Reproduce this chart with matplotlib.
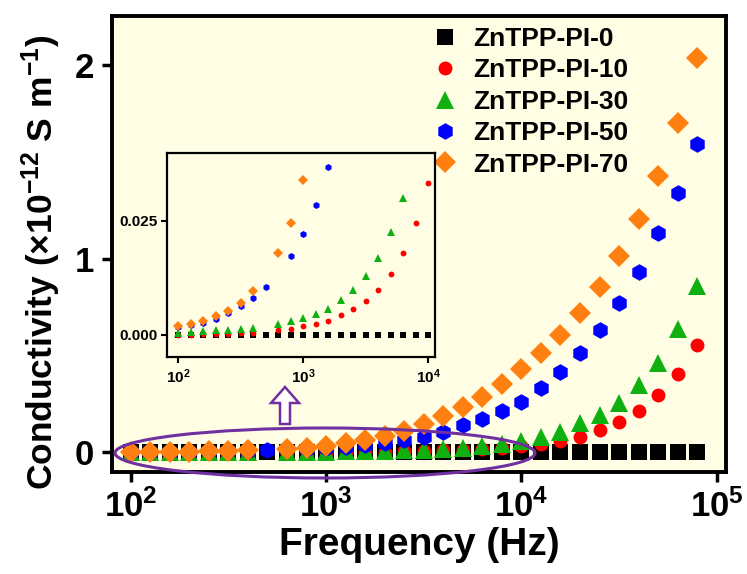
import numpy as np
import matplotlib
matplotlib.use("Agg")
import matplotlib.pyplot as plt
from matplotlib.patches import Ellipse, FancyArrow

plt.rcParams['font.family'] = ['Liberation Sans', 'DejaVu Sans']
plt.rcParams['font.weight'] = 'bold'
plt.rcParams['mathtext.fontset'] = 'custom'
plt.rcParams['mathtext.rm'] = 'Liberation Sans:bold'
plt.rcParams['mathtext.bf'] = 'Liberation Sans:bold'
plt.rcParams['mathtext.default'] = 'bf'

# frequency: 10 points per decade, 100 Hz .. 79 kHz
freq = 10 ** (2 + np.arange(30) / 10)

nan = np.nan
pi_0 = [0.0] * 30
pi_10 = [0.0000, 0.0000, 0.0001, 0.0001, 0.0002, 0.0003, 0.0004, nan, 0.0010, 0.0012,
         0.0018, 0.0023, 0.0030, 0.0042, 0.0056, 0.0073, 0.0098, 0.0133, 0.0180, 0.0246,
         0.0333, 0.042, 0.056, 0.081, 0.115, 0.158, 0.215, 0.296, 0.404, 0.554]
pi_30 = [0.0004, 0.0005, 0.0007, 0.0009, 0.0011, 0.0012, 0.0015, nan, 0.0023, 0.0029,
         0.0036, 0.0045, 0.0056, 0.0075, 0.0098, 0.0128, 0.0169, 0.0225, 0.0301, 0.042,
         0.058, 0.081, 0.104, 0.150, 0.193, 0.256, 0.347, 0.463, 0.635, 0.859]
pi_50 = [0.0016, 0.0020, 0.0025, 0.0034, 0.0047, 0.0063, 0.0080, 0.0104, nan, 0.0172,
         0.0221, 0.0285, 0.0368, 0.046, 0.063, 0.081, 0.106, 0.141, 0.170, 0.215,
         0.261, 0.334, 0.413, 0.511, 0.631, 0.769, 0.929, 1.131, 1.340, 1.592]
pi_70 = [0.0018, 0.0024, 0.0029, 0.0040, 0.0052, 0.0069, 0.0096, nan, 0.0179, 0.0246,
         0.0339, 0.046, 0.063, 0.086, 0.112, 0.146, 0.187, 0.232, 0.287, 0.353,
         0.428, 0.511, 0.606, 0.721, 0.855, 1.013, 1.203, 1.428, 1.702, 2.034]

labels = ['ZnTPP-PI-0', 'ZnTPP-PI-10', 'ZnTPP-PI-30', 'ZnTPP-PI-50', 'ZnTPP-PI-70']
series = [pi_0, pi_10, pi_30, pi_50, pi_70]
colors = ['black', '#FF0000', '#10B010', '#0000FF', '#FF8010']
markers = ['s', 'o', '^', 'h', 'D']
msize = [11.5, 10, 12.5, 12, 11]

bg = '#FFFEE4'
W, H = 747, 574

fig = plt.figure(figsize=(W / 100, H / 100), dpi=100)

# ---- main axes
ax = fig.add_axes([112 / W, 1 - 471.7 / H, (725.7 - 112) / W, (471.7 - 15.7) / H])
ax.set_facecolor(bg)
for y, lab, c, m, s in zip(series, labels, colors, markers, msize):
    ax.plot(freq, y, ls='none', marker=m, color=c, ms=s, mew=0, label=lab)
ax.set_xscale('log')
ax.set_xlim(10 ** 1.904, 10 ** 5.046)
ax.set_ylim(-0.10, 2.254)
ax.set_xticks([1e2, 1e3, 1e4, 1e5])
ax.set_xticklabels([r'$10^{2}$', r'$10^{3}$', r'$10^{4}$', r'$10^{5}$'])
ax.minorticks_off()
ax.set_yticks([0, 1, 2])
ax.set_yticklabels(['0', '1', '2'])
ax.tick_params(direction='out', length=7, width=2.5, labelsize=25, pad=6)
for sp in ax.spines.values():
    sp.set_linewidth(2.8)
ax.set_xlabel('Frequency (Hz)', fontsize=28, fontweight='bold', labelpad=2)
ax.set_ylabel(r'Conductivity (×10$^{-12}$ S m$^{-1}$)', fontsize=25.5,
              fontweight='bold')
ax.yaxis.set_label_coords(-0.08, 0.46)

leg = ax.legend(loc='upper left', bbox_to_anchor=(430 / W, 1 - 27 / H),
                bbox_transform=fig.transFigure, frameon=False, fontsize=19,
                borderaxespad=0, borderpad=0, handletextpad=0.55,
                labelspacing=0.28, handlelength=1.1)

# ---- inset
axi = fig.add_axes([167.3 / W, 1 - 357.3 / H, (435 - 167.3) / W, (357.3 - 152.7) / H])
axi.set_facecolor(bg)
for y, c, m, s in zip(series, colors, markers, msize):
    axi.plot(freq, y, ls='none', marker=m, color=c, ms=s * 0.42, mew=0)
axi.set_xscale('log')
axi.set_xlim(10 ** 1.912, 10 ** 4.054)
axi.set_ylim(-0.005, 0.040)
axi.set_xticks([1e2, 1e3, 1e4])
axi.set_xticklabels([r'$10^{2}$', r'$10^{3}$', r'$10^{4}$'])
axi.minorticks_off()
axi.set_yticks([0.0, 0.025])
axi.set_yticklabels(['0.000', '0.025'])
axi.tick_params(direction='out', length=4, width=1.5, labelsize=11, pad=3)
for sp in axi.spines.values():
    sp.set_linewidth(1.6)

# ---- ellipse and arrow (figure pixel coords)
purple = '#7030A0'
ell = Ellipse((325 / W, 1 - 453 / H), 420 / W, 50 / H, transform=fig.transFigure,
              fill=False, edgecolor=purple, lw=2.2, clip_on=False, zorder=10)
fig.patches.append(ell)
arr = FancyArrow(285 / W, 1 - 424 / H, 0, 37 / H, width=10 / W, head_width=28 / W,
                 head_length=16 / H, length_includes_head=True, transform=fig.transFigure,
                 facecolor='white', edgecolor=purple, lw=1.8, zorder=10)
fig.patches.append(arr)

fig.savefig('out.png', dpi=100)
